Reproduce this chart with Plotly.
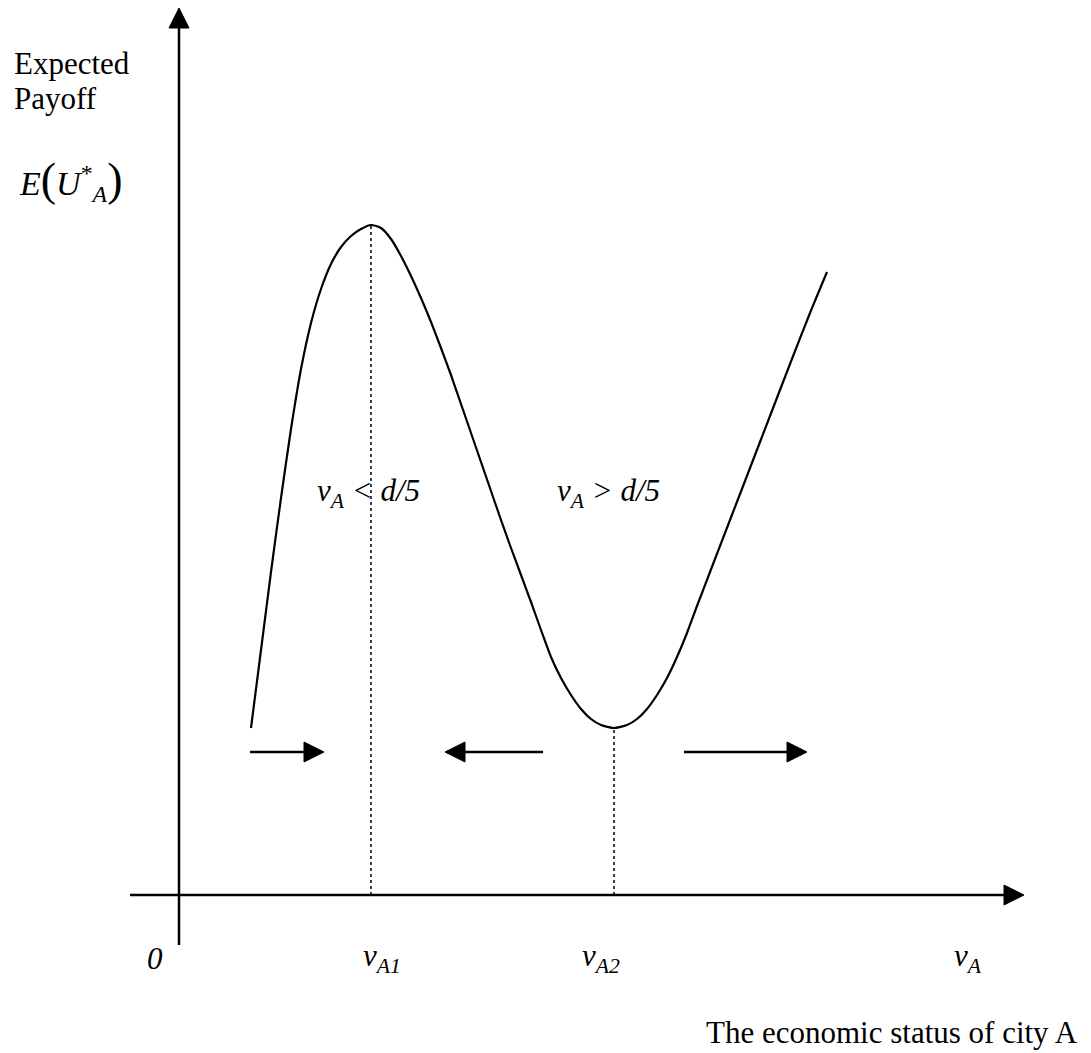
import plotly.graph_objects as go

# expected payoff curve (x = v_A, y = E(U*_A))
v_a = [0.72, 0.82, 0.92, 1.02, 1.12, 1.22, 1.32, 1.42, 1.52, 1.62, 1.72, 1.82, 1.92,
       2.02, 2.12, 2.22, 2.32, 2.42, 2.52, 2.62, 2.72, 2.82, 2.92, 3.02, 3.12, 3.22,
       3.32, 3.42, 3.52, 3.62, 3.72, 3.82, 3.92, 4.02, 4.12, 4.22, 4.35, 4.48, 4.58,
       4.68, 4.78, 4.88, 4.98, 5.08, 5.18, 5.31, 5.51, 5.71, 5.91, 6.11, 6.31, 6.48]
payoff = [1.67, 2.45, 3.23, 3.97, 4.66, 5.26, 5.72, 6.06, 6.31, 6.48, 6.59, 6.66, 6.70,
          6.67, 6.56, 6.39, 6.19, 5.97, 5.73, 5.47, 5.20, 4.91, 4.62, 4.33, 4.04, 3.75,
          3.47, 3.20, 2.93, 2.65, 2.38, 2.17, 2.00, 1.86, 1.76, 1.70, 1.67, 1.70, 1.76,
          1.86, 2.00, 2.17, 2.38, 2.62, 2.89, 3.23, 3.75, 4.27, 4.79, 5.31, 5.82, 6.23]

# critical points
v_a1, v_a2 = 1.92, 4.35
peak, trough = 6.70, 1.67

# direction arrows (start, tip) at one height
arrow_y = 1.43
arrow_start = [0.71, 3.64, 5.05]
arrow_tip = [1.45, 2.66, 6.28]

# axes extents
x_axis = [-0.49, 8.45]
y_axis = [-0.50, 8.87]

FONT = 'Liberation Serif, Times New Roman, serif'
HEAD = 0.20   # arrow head length
HALF = 0.10   # arrow head half width


def head_right(tx, ty):
    return [tx - HEAD, tx, tx - HEAD, tx - HEAD], [ty + HALF, ty, ty - HALF, ty + HALF]


def head_left(tx, ty):
    return [tx + HEAD, tx, tx + HEAD, tx + HEAD], [ty + HALF, ty, ty - HALF, ty + HALF]


def head_up(tx, ty):
    return [tx - HALF, tx, tx + HALF, tx - HALF], [ty - HEAD, ty, ty - HEAD, ty - HEAD]


fig = go.Figure()

line = dict(color='black', width=2.5)

# axes
fig.add_trace(go.Scatter(x=[x_axis[0], x_axis[1] - HEAD], y=[0, 0], mode='lines', line=line))
fig.add_trace(go.Scatter(x=[0, 0], y=[y_axis[0], y_axis[1] - HEAD], mode='lines', line=line))
for hx, hy in [head_right(x_axis[1], 0), head_up(0, y_axis[1])]:
    fig.add_trace(go.Scatter(x=hx, y=hy, mode='lines', fill='toself', fillcolor='black',
                             line=dict(color='black', width=1)))

# dotted guides
fig.add_trace(go.Scatter(x=[v_a1, v_a1], y=[0, peak], mode='lines',
                         line=dict(color='black', width=1.5, dash='dot')))
fig.add_trace(go.Scatter(x=[v_a2, v_a2], y=[0, trough], mode='lines',
                         line=dict(color='black', width=1.5, dash='dot')))

# payoff curve
fig.add_trace(go.Scatter(x=v_a, y=payoff, mode='lines',
                         line=dict(color='black', width=2.2, shape='spline', smoothing=0.6)))

# movement arrows
for s, t in zip(arrow_start, arrow_tip):
    if t > s:
        hx, hy = head_right(t, arrow_y)
        end = t - HEAD
    else:
        hx, hy = head_left(t, arrow_y)
        end = t + HEAD
    fig.add_trace(go.Scatter(x=[s, end], y=[arrow_y, arrow_y], mode='lines',
                             line=dict(color='black', width=2.5)))
    fig.add_trace(go.Scatter(x=hx, y=hy, mode='lines', fill='toself', fillcolor='black',
                             line=dict(color='black', width=1)))


def label(x, y, text, size=31, xanchor='center'):
    fig.add_annotation(x=x, y=y, text=text, showarrow=False, xanchor=xanchor,
                       yanchor='middle', font=dict(family=FONT, size=size, color='black'))


label(-1.67, 8.32, 'Expected', xanchor='left')
label(-1.67, 7.97, 'Payoff', xanchor='left')
label(-1.62, 7.15, '<i>E</i><span style="font-size:46px">(</span><i>U</i><sup>*</sup>'
      '<sub><i>A</i></sub><span style="font-size:46px">)</span>', size=34, xanchor='left')
label(1.89, 4.02, '<i>v<sub>A</sub> &lt; d/5</i>')
label(4.29, 4.02, '<i>v<sub>A</sub> &gt; d/5</i>')
label(-0.24, -0.63, '<i>0</i>')
label(v_a1 + 0.11, -0.63, '<i>v<sub>A1</sub></i>')
label(v_a2 - 0.13, -0.63, '<i>v<sub>A2</sub></i>')
label(7.89, -0.63, '<i>v<sub>A</sub></i>')
label(9.01, -1.37, 'The economic status of city A', xanchor='right')

# the page adds an 8px body margin, so the figure is 8px smaller and ranges shifted
fig.update_layout(
    width=1083, height=1045,
    margin=dict(l=0, r=0, t=0, b=0),
    paper_bgcolor='white', plot_bgcolor='white',
    showlegend=False,
)
fig.update_xaxes(range=[-1.71, 9.12], visible=False)
fig.update_yaxes(range=[-1.58, 8.87], visible=False)

fig.write_html("out.html")
